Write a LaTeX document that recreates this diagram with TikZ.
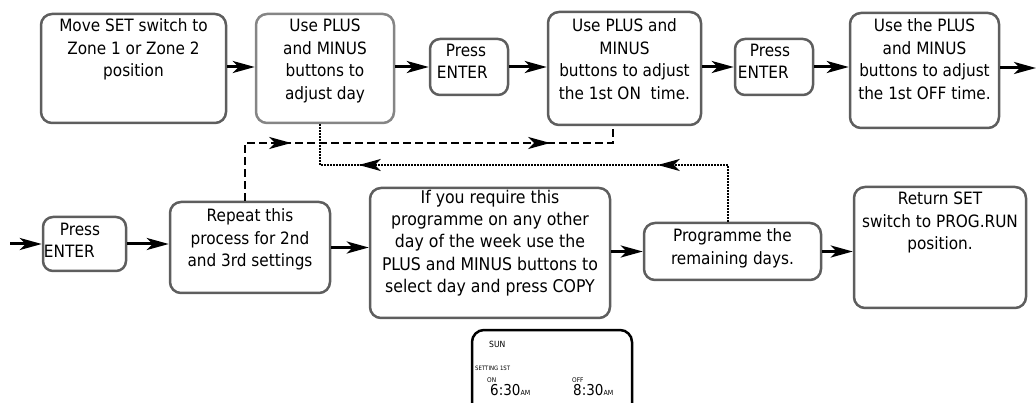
\documentclass[tikz,border=0pt]{standalone}
\usepackage{fontspec}
\setmainfont{DejaVu Sans Condensed}
\usetikzlibrary{arrows.meta,decorations.markings}
\definecolor{boxgray}{HTML}{5E5E5E}
\definecolor{lightgray2}{HTML}{858585}
\begin{document}
\begin{tikzpicture}[x=1pt,y=-1pt,
  box/.style={draw=boxgray, line width=2.5pt, rounded corners=11pt, inner sep=0pt},
  txt/.style={inner sep=0pt, align=center, font=\fontsize{17}{22.5}\selectfont},
  ptxt/.style={inner sep=0pt, align=left, anchor=north west, font=\fontsize{17}{22.5}\selectfont},
  tipstyle/.tip={Stealth[length=22pt,width=12pt,inset=6pt]},
  arr/.style={line width=3pt, -tipstyle},
  dashline/.style={line width=2.5pt, dash pattern=on 8pt off 4pt},
  dotline/.style={line width=2pt, dash pattern=on 1.5pt off 1.5pt},
  small/.style={inner sep=0pt, anchor=base west, font=\fontsize{6.5}{8}\selectfont}]
\useasboundingbox (0,0) rectangle (1036,403);

% top row
\node[box, minimum width=185pt, minimum height=109pt] (b1) at (133.5,68.5) {};
\node[txt, anchor=north] (t1) at ([yshift=-6pt]b1.north) {Move SET switch to\\Zone 1 or Zone 2\\position};
\node[box, draw=lightgray2, minimum width=138pt, minimum height=109pt] (b2) at (325,68.5) {};
\node[txt, anchor=north] (t2) at ([yshift=-6pt]b2.north) {Use PLUS\\and MINUS\\buttons to\\adjust day};
\node[box, rounded corners=10pt, minimum width=78pt, minimum height=56pt] (p1) at (469,67) {};
\node[ptxt] (tp1) at ([xshift=8pt,yshift=-6pt]p1.north west) {\hspace*{9pt}Press\\ENTER};
\node[box, minimum width=153pt, minimum height=113pt] (b3) at (624.5,68.5) {};
\node[txt, anchor=north] (t3) at ([yshift=-8pt]b3.north) {Use PLUS and\\MINUS\\buttons to adjust\\the 1st ON~ time.};
\node[box, rounded corners=10pt, minimum width=78pt, minimum height=56pt] (p2) at (774,67) {};
\node[ptxt] (tp2) at ([xshift=4pt,yshift=-6pt]p2.north west) {\hspace*{12pt}Press\\ENTER};
\node[box, minimum width=149pt, minimum height=115pt] (b4) at (924.5,70.5) {};
\node[txt, anchor=north] (t4) at ([yshift=-7pt]b4.north) {Use the PLUS\\and MINUS\\buttons to adjust\\the 1st OFF time.};

% second row
\node[box, rounded corners=10pt, minimum width=83pt, minimum height=54pt] (p3) at (84.5,244) {};
\node[ptxt] (tp3) at ([xshift=2pt,yshift=-7pt]p3.north west) {\hspace*{16pt}Press\\ENTER};
\node[box, minimum width=160pt, minimum height=91pt] (rep) at (250,247.5) {};
\node[txt, anchor=north] (trep) at ([yshift=-8pt]rep.north) {Repeat this\\process for 2nd\\and 3rd settings};
\node[box, minimum width=240pt, minimum height=130pt] (iff) at (490,253) {};
\node[txt, anchor=north, font=\fontsize{17.5}{22.3}\selectfont] (tiff) at ([yshift=-3pt]iff.north) {If you require this\\programme on any other\\day of the week use the\\PLUS and MINUS buttons to\\select day and press COPY};
\node[box, minimum width=177pt, minimum height=57pt] (prog) at (732.5,251.5) {};
\node[txt, anchor=north] (tprog) at ([yshift=-7pt]prog.north) {Programme the\\remaining days.};
\node[box, minimum width=172pt, minimum height=121pt] (ret) at (940,247.5) {};
\node[txt, anchor=north] (tret) at ([yshift=-6pt]ret.north) {Return SET\\switch to PROG.RUN\\position.};

% display
\node[box, draw=black, line width=2.5pt, rounded corners=12pt, minimum width=160pt, minimum height=90pt] (disp) at (552,375) {};
\node[small, font=\fontsize{8.5}{10}\selectfont] (dsun) at (489,347) {SUN};
\node[small, font=\fontsize{6}{8}\selectfont] (dset) at (475,370) {SETTING 1ST};
\node[small] (don) at (487,382) {ON};
\node[small] (doff) at (572,382) {OFF};
\node[small, font=\fontsize{15}{18}\selectfont] (don2) at (490,395) {6:30{\fontsize{7}{8}\selectfont AM}};
\node[small, font=\fontsize{15}{18}\selectfont] (doff2) at (573,395) {8:30{\fontsize{7}{8}\selectfont AM}};

% connectors
\draw[arr] (b1.east |- p1.west) -- (b2.west |- p1.west);
\draw[arr] (b2.east |- p1.west) -- (p1.west);
\draw[arr] (p1.east) -- (p1.east -| b3.west);
\draw[arr] (p2.west -| b3.east) -- (p2.west);
\draw[arr] (p2.east) -- (p2.east -| b4.west);
\coordinate (out) at (1036,68);
\draw[arr] (b4.east |- out) -- (out);
\coordinate (in) at (10,244);
\draw[arr] (in) -- (p3.west);
\draw[arr] (p3.east) -- (p3.east -| rep.west);
\draw[arr] (rep.east) -- (rep.east -| iff.west);
\draw[arr] (iff.east |- prog.west) -- (prog.west);
\draw[arr] (prog.east) -- (prog.east -| ret.west);

% feedback loops
\coordinate (dc) at (245,143);
\draw[dashline, postaction={decorate}, decoration={markings,
  mark=at position 104pt with {\arrow{tipstyle}},
  mark=at position 363pt with {\arrow{tipstyle}}}]
  ([xshift=-5pt]rep.north) |- (dc) -| ([xshift=-11.5pt]b3.south);
\coordinate (tc) at (728,165);
\draw[dotline, postaction={decorate}, decoration={markings,
  mark=at position 127pt with {\arrow{tipstyle}},
  mark=at position 426pt with {\arrow{tipstyle}}}]
  ([xshift=-4.5pt]prog.north) |- (tc) -| ([xshift=-5pt]b2.south);
\end{tikzpicture}
\end{document}
